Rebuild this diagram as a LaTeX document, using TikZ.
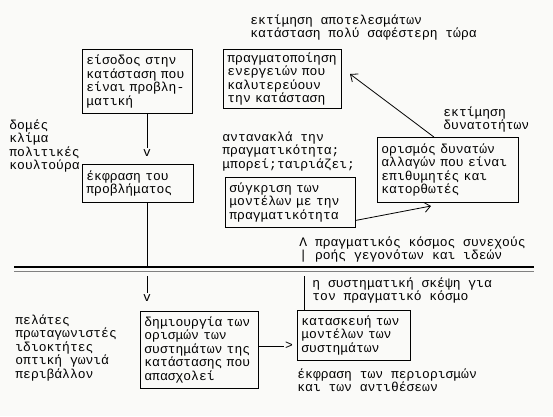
\documentclass[tikz,border=0pt]{standalone}
\usepackage{fontspec}
\setmainfont{Liberation Mono}
\usetikzlibrary{arrows.meta, calc}
\definecolor{papier}{RGB}{250,250,248}
\tikzset{
  kouti/.style={draw, align=left, inner xsep=4pt, inner ysep=3pt, anchor=north west},
  keimeno/.style={align=left, inner sep=0pt, anchor=north west},
  akri/.style={inner sep=1pt},
  belos/.style={-{Straight Barb[length=6pt,width=10pt]}}
}
\begin{document}
\begin{tikzpicture}[x=1pt, y=-1pt, line width=0.8pt, font=\fontsize{13}{13.5}\selectfont]
\useasboundingbox[fill=papier] (0,0) rectangle (553,416);
% upper half
\node[keimeno] (apotel) at (250,14) {εκτίμηση αποτελεσμάτων\\κατάσταση πολύ σαφέστερη τώρα};
\node[kouti, text width=102pt, minimum height=64pt] (eisodos) at (82,49) {είσοδος στην\\κατάσταση που\\είναι προβλη-\\ματική};
\node[kouti, text width=110pt, minimum height=59pt] (pragm) at (223,49) {πραγματοποίηση\\ενεργειών που\\καλυτερεύουν\\την κατάσταση};
\node[keimeno] (domes) at (9,119) {δομές\\κλίμα\\πολιτικές\\κουλτούρα};
\node[akri] (v1) at (147,153) {v};
\node[kouti, text width=103pt, minimum height=38pt] (ekfrasi) at (82,164) {έκφραση του\\προβλήματος};
\node[keimeno] (antan) at (222,131) {αντανακλά την\\πραγματικότητα;\\μπορεί;ταιριάζει;};
\node[kouti, text width=122pt, minimum height=50pt] (sygkrisi) at (225,177) {σύγκριση των\\μοντέλων με την\\πραγματικότητα};
\node[keimeno] (ektim) at (443,106) {εκτίμηση\\δυνατοτήτων};
\node[kouti, text width=133pt, minimum height=65pt] (orismos) at (377,137) {ορισμός δυνατών\\αλλαγών που είναι\\επιθυμητές και\\κατορθωτές};
\node[keimeno] (kosmos) at (299,236) {Λ πραγματικός κόσμος συνεχούς\\| ροής γεγονότων και ιδεών};
\coordinate (a2) at (431,206); \coordinate (a3) at (350,74);
\draw (eisodos.south -| v1) -- (v1.north);
\draw[belos] ([yshift=-18pt]sygkrisi.east) -- (a2);
\draw[belos] ([xshift=-14pt]orismos.north) -- (a3);
% double line
\coordinate (dA) at (14,267); \coordinate (dB) at (534,267);
\draw[line width=1.4pt] (dA) -- (dB);
\draw[line width=0.7pt, gray] ($(dA)+(0,4)$) -- ($(dB)+(0,4)$);
\draw (ekfrasi.south -| v1) -- (v1 |- dA);
% lower half
\node[keimeno] (pelates) at (15,314) {πελάτες\\πρωταγωνιστές\\ιδιοκτήτες\\οπτική γωνιά\\περιβάλλον};
\node[akri] (v2) at (147,298) {v};
\node[kouti, text width=110pt, minimum height=77pt] (dimiourgia) at (140,311) {δημιουργία των\\ορισμών των\\συστημάτων της\\κατάστασης που\\απασχολεί};
\node[akri] (gt) at (289,346) {>};
\node[kouti, text width=105pt, minimum height=50pt] (kataskevi) at (297,310) {κατασκευή των\\μοντέλων των\\συστημάτων};
\node[keimeno] (systsk) at (312,277) {η συστηματική σκέψη για\\τον πραγματικό κόσμο};
\node[keimeno] (antith) at (297,368) {έκφραση των περιορισμών\\και των αντιθέσεων};
\coordinate (k2) at (147,276); \coordinate (k3) at (304,276);
\draw (k2) -- (v2.north);
\draw (gt.west -| dimiourgia.east) -- (gt.west);
\draw (kataskevi.north -| k3) -- (k3);
\end{tikzpicture}
\end{document}
